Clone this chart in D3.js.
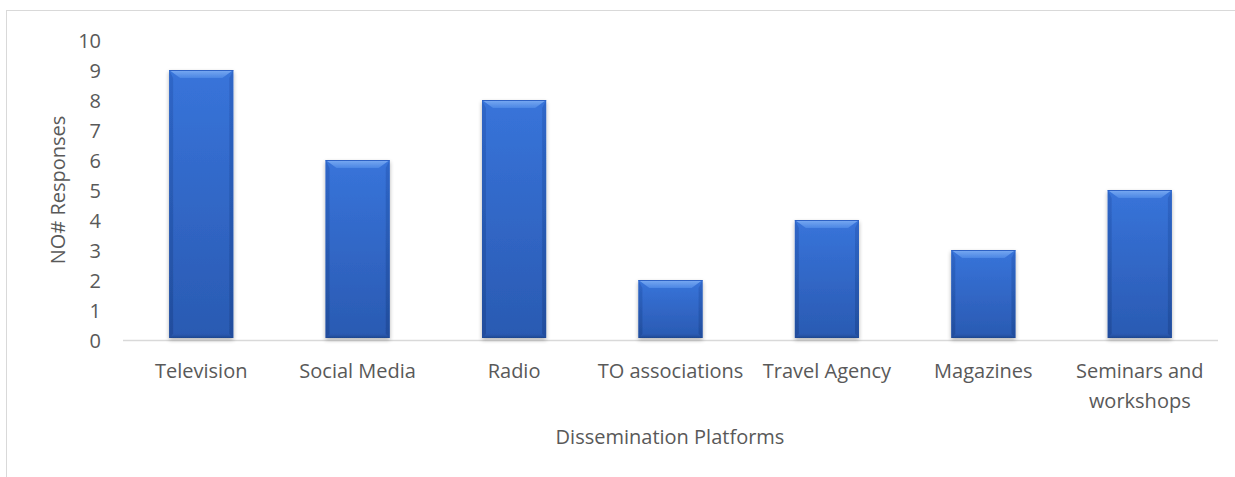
<!DOCTYPE html>
<html>
<head>
<meta charset="utf-8">
<script src="https://cdn.jsdelivr.net/npm/d3@7"></script>
<style>
  html, body { margin: 0; padding: 0; background: #fff; }
  svg { display: block; }
  text { font-family: "Open Sans", "Noto Sans", sans-serif; fill: #595959; }
</style>
</head>
<body>
<svg id="chart" width="1235" height="477"></svg>
<script>
// Survey responses per dissemination platform
const categories = ["Television", "Social Media", "Radio", "TO associations", "Travel Agency", "Magazines", "Seminars and workshops"];
const responses = [9, 6, 8, 2, 4, 3, 5];
const yTicks = [0, 1, 2, 3, 4, 5, 6, 7, 8, 9, 10];
const labelLines = [["Television"], ["Social Media"], ["Radio"], ["TO associations"], ["Travel Agency"], ["Magazines"], ["Seminars and", "workshops"]];

const svg = d3.select("#chart");
const W = 1235, H = 477;
const margin = { left: 123, right: 17, top: 40, bottom: 137 };
const FONT = 20;

// outer chart frame
svg.append("rect")
  .attr("x", 6.5).attr("y", 10.5)
  .attr("width", W - 6).attr("height", H)
  .attr("fill", "none").attr("stroke", "#d9d9d9").attr("stroke-width", 1);

const x = d3.scaleBand()
  .domain(categories)
  .range([margin.left, W - margin.right])
  .paddingInner(0.59).paddingOuter(0.295);

const y = d3.scaleLinear()
  .domain([0, 10])
  .range([H - margin.bottom, H - margin.bottom - 300]);

const defs = svg.append("defs");
const grad = defs.append("linearGradient").attr("id", "barFill")
  .attr("x1", 0).attr("y1", 0).attr("x2", 0).attr("y2", 1);
grad.append("stop").attr("offset", "0%").attr("stop-color", "#3874da");
grad.append("stop").attr("offset", "100%").attr("stop-color", "#2a5ab2");

const sideGrad = defs.append("linearGradient").attr("id", "sideFill")
  .attr("x1", 0).attr("y1", 0).attr("x2", 0).attr("y2", 1);
sideGrad.append("stop").attr("offset", "0%").attr("stop-color", "#2c62c2");
sideGrad.append("stop").attr("offset", "100%").attr("stop-color", "#1f4996");

const topGrad = defs.append("linearGradient").attr("id", "topFill")
  .attr("x1", 0).attr("y1", 0).attr("x2", 0).attr("y2", 1);
topGrad.append("stop").attr("offset", "0%").attr("stop-color", "#7aaaf2");
topGrad.append("stop").attr("offset", "100%").attr("stop-color", "#4b86e4");

const botGrad = defs.append("linearGradient").attr("id", "botFill")
  .attr("x1", 0).attr("y1", 0).attr("x2", 0).attr("y2", 1);
botGrad.append("stop").attr("offset", "0%").attr("stop-color", "#2a58ae").attr("stop-opacity", 0);
botGrad.append("stop").attr("offset", "100%").attr("stop-color", "#1d448c");

const shadow = defs.append("filter").attr("id", "barShadow")
  .attr("x", "-20%").attr("y", "-10%").attr("width", "140%").attr("height", "130%");
shadow.append("feGaussianBlur").attr("in", "SourceAlpha").attr("stdDeviation", 2).attr("result", "blur");
shadow.append("feOffset").attr("in", "blur").attr("dx", 0).attr("dy", 2).attr("result", "off");
shadow.append("feComponentTransfer").attr("in", "off").attr("result", "soft")
  .append("feFuncA").attr("type", "linear").attr("slope", 0.3);
const merge = shadow.append("feMerge");
merge.append("feMergeNode").attr("in", "soft");
merge.append("feMergeNode").attr("in", "SourceGraphic");

// baseline
svg.append("line")
  .attr("x1", margin.left).attr("x2", W - margin.right)
  .attr("y1", y(0) + 0.5).attr("y2", y(0) + 0.5)
  .attr("stroke", "#d9d9d9").attr("stroke-width", 1.5);

// y axis labels
const yAxis = d3.axisLeft(y).tickValues(yTicks).tickSize(0).tickPadding(0);
const gy = svg.append("g").attr("transform", "translate(101,0)").call(yAxis);
gy.select(".domain").remove();
gy.selectAll("text")
  .style("font-family", "'Open Sans', 'Noto Sans', sans-serif")
  .attr("font-size", FONT).attr("fill", "#595959").attr("dy", "0.35em");

// beveled bars
const bev = 8, inset = 11, side = 4;
const bars = svg.append("g").selectAll("g.bar")
  .data(categories.map((c, i) => ({ c, v: responses[i] })))
  .join("g").attr("class", "bar").attr("filter", "url(#barShadow)");

bars.each(function(d) {
  const g = d3.select(this);
  const x0 = x(d.c), x1 = x0 + x.bandwidth();
  const y0 = y(d.v), y1 = y(0) - 2;
  g.append("rect").attr("x", x0).attr("y", y0)
    .attr("width", x1 - x0).attr("height", y1 - y0).attr("fill", "url(#barFill)");
  // left and right edges
  g.append("polygon").attr("points", [[x0, y0], [x0 + side, y0 + bev], [x0 + side, y1 - 4], [x0, y1]].join(" "))
    .attr("fill", "url(#sideFill)").attr("opacity", 0.75);
  g.append("polygon").attr("points", [[x1, y0], [x1 - side, y0 + bev], [x1 - side, y1 - 4], [x1, y1]].join(" "))
    .attr("fill", "url(#sideFill)").attr("opacity", 0.75);
  // bottom edge
  g.append("polygon").attr("points", [[x0, y1], [x0 + side, y1 - 5], [x1 - side, y1 - 5], [x1, y1]].join(" "))
    .attr("fill", "url(#botFill)");
  // top bevel
  g.append("polygon").attr("points", [[x0, y0], [x1, y0], [x1 - inset, y0 + bev], [x0 + inset, y0 + bev]].join(" "))
    .attr("fill", "url(#topFill)");
  g.append("line").attr("x1", x0).attr("x2", x1).attr("y1", y0 + 0.5).attr("y2", y0 + 0.5)
    .attr("stroke", "#2d62c4").attr("stroke-width", 1);
});

// category labels
const xl = svg.append("g");
categories.forEach((c, i) => {
  const cx = x(c) + x.bandwidth() / 2;
  const t = xl.append("text").attr("x", cx).attr("y", 378)
    .attr("text-anchor", "middle").attr("font-size", FONT);
  labelLines[i].forEach((line, j) => {
    t.append("tspan").attr("x", cx).attr("dy", j === 0 ? 0 : 30).text(line);
  });
});

// axis titles
svg.append("text").attr("x", 670).attr("y", 444)
  .attr("text-anchor", "middle").attr("font-size", FONT)
  .text("Dissemination Platforms");

svg.append("text")
  .attr("transform", "translate(65,190) rotate(-90)")
  .attr("text-anchor", "middle").attr("font-size", FONT)
  .text("NO# Responses");
</script>
</body>
</html>
